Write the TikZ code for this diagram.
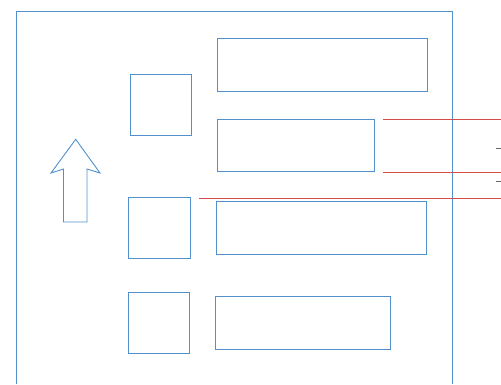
\documentclass[tikz,border=0pt]{standalone}
\begin{document}
\begin{tikzpicture}[x=1pt,y=-1pt,
  bl/.style={draw=blue!55!cyan!70!black!80, line width=0.9pt},
  box/.style={bl, rectangle, inner sep=0pt, outer sep=0pt},
  redline/.style={draw=red!75!black!70, line width=0.7pt},
  tick/.style={draw=black!60, line width=0.7pt}]
\definecolor{frameblue}{RGB}{80,145,205}
\tikzset{bl/.style={draw=frameblue, line width=0.9pt}}
\useasboundingbox (0,0) rectangle (501,384);
% outer frame (open at bottom, cut off)
\draw[bl] (16,384) -- (16,11) -- (452,11) -- (452,384);
% squares
\node[box, minimum width=61pt, minimum height=61pt] (s1) at (160.5,104.5) {};
\node[box, minimum width=62pt, minimum height=61pt] (s2) at (159,227.5) {};
\node[box, minimum width=61pt, minimum height=61pt] (s3) at (158.5,322.5) {};
% wide boxes
\node[box, minimum width=210pt, minimum height=53pt] (bA) at (322,64.5) {};
\node[box, minimum width=157pt, minimum height=52pt] (bB) at (295.5,145) {};
\node[box, minimum width=210pt, minimum height=53pt] (bC) at (321,227.5) {};
\node[box, minimum width=175pt, minimum height=53pt] (bD) at (302.5,322.5) {};
% arrow
\draw[bl, line join=miter] (75.7,139.3) -- (100,173) -- (87,169) -- (87,222)
  -- (63.5,222) -- (63.5,169) -- (51,173) -- cycle;
% red lines
\coordinate (r1a) at (383,119); \coordinate (r1b) at (501,119);
\coordinate (r2a) at (383,172); \coordinate (r2b) at (501,172);
\coordinate (r3a) at (199,198); \coordinate (r3b) at (501,198);
\draw[redline] (r1a) -- (r1b);
\draw[redline] (r2a) -- (r2b);
\draw[redline] (r3a) -- (r3b);
% small marks at right edge
\coordinate (t1a) at (496,148); \coordinate (t1b) at (501,148);
\coordinate (t2a) at (496,181); \coordinate (t2b) at (501,181);
\draw[tick] (t1a) -- (t1b);
\draw[tick] (t2a) -- (t2b);
\end{tikzpicture}
\end{document}
